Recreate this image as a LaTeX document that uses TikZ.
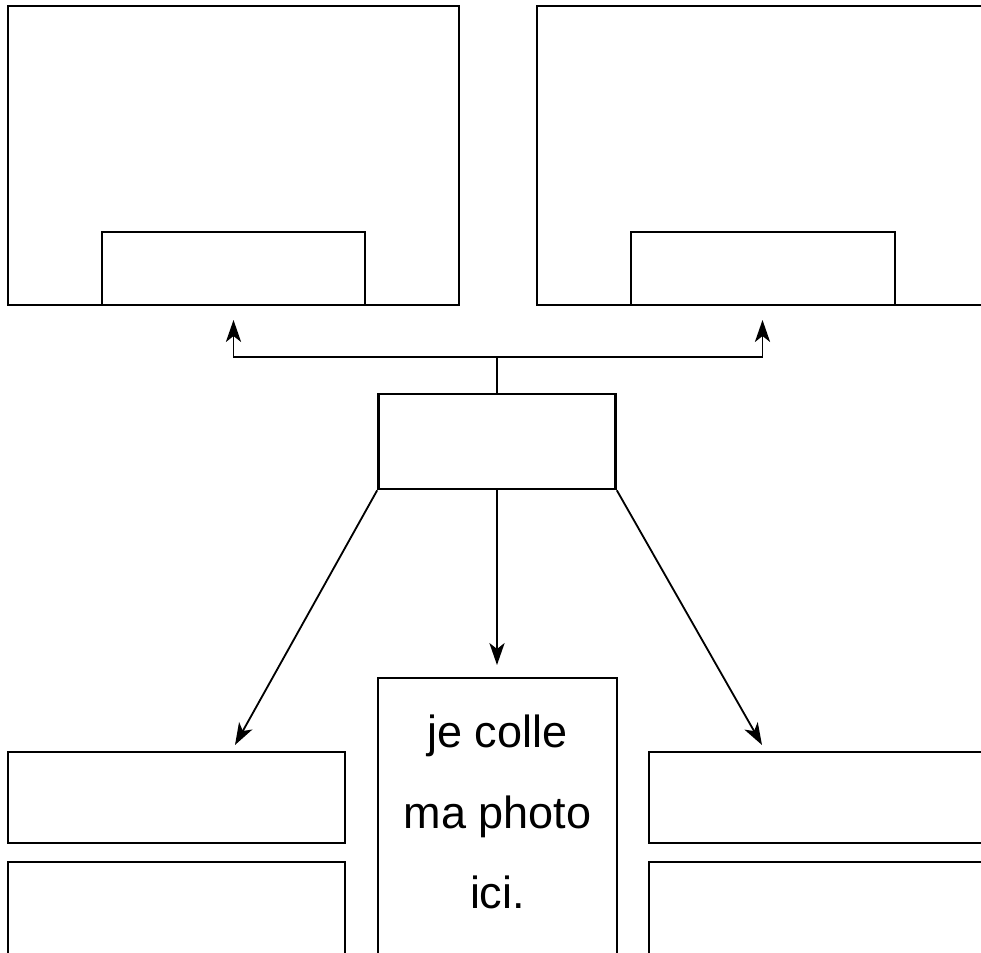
\documentclass[tikz,border=0pt]{standalone}
\usepackage{fontspec}
\setmainfont{Liberation Sans}
\usetikzlibrary{arrows.meta,positioning}

\begin{document}
\begin{tikzpicture}[x=0.025cm,y=-0.025cm,
  cadre/.style={draw,line width=1.8pt,inner sep=0pt,rectangle},
  fleche/.style={line width=1.3pt,-{Stealth[length=0.55cm,width=0.38cm,inset=0.15cm]}}]
  \useasboundingbox (0,0) rectangle (981,953);
  \clip (0,0) rectangle (981,953);
  \node[cadre,minimum width=11.275cm,minimum height=7.475cm] (ecranA) at (233.5,155.5) {};
  \node[cadre,minimum width=6.575cm,minimum height=1.825cm] (barreA) at (233.5,268.5) {};
  \node[cadre,minimum width=11.275cm,minimum height=7.475cm] (ecranB) at (762.5,155.5) {};
  \node[cadre,minimum width=6.6cm,minimum height=1.825cm] (barreB) at (763,268.5) {};
  \node[cadre,minimum width=5.925cm,minimum height=2.375cm] (centre) at (497,441.5) {};
  \node[cadre,minimum width=5.975cm,minimum height=8.05cm] (photo) at (497.5,839) {};
  \node[inner sep=0pt,align=center,font=\fontsize{32}{57}\selectfont] (legende) at (497.5,812) {je colle\\ma photo\\ici.};
  \node[cadre,minimum width=8.425cm,minimum height=2.275cm] (nomA) at (176.5,797.5) {};
  \node[cadre,minimum width=8.425cm,minimum height=3.45cm] (texteA) at (176.5,931) {};
  \node[cadre,minimum width=8.425cm,minimum height=2.275cm] (nomB) at (817.5,797.5) {};
  \node[cadre,minimum width=8.425cm,minimum height=3.45cm] (texteB) at (817.5,931) {};
  \coordinate (boutA) at (233.5,320);
  \coordinate (boutB) at (762.5,320);
  \coordinate (boutC) at (235,745);
  \coordinate (boutD) at (497,665);
  \coordinate (boutE) at (762,745);
  \draw[fleche] (centre.north) -- ++(0,-36) -| (boutA);
  \draw[fleche] (centre.north) -- ++(0,-36) -| (boutB);
  \draw[fleche] (centre.south west) -- (boutC);
  \draw[fleche] (centre.south) -- (boutD);
  \draw[fleche] (centre.south east) -- (boutE);
\end{tikzpicture}
\end{document}
